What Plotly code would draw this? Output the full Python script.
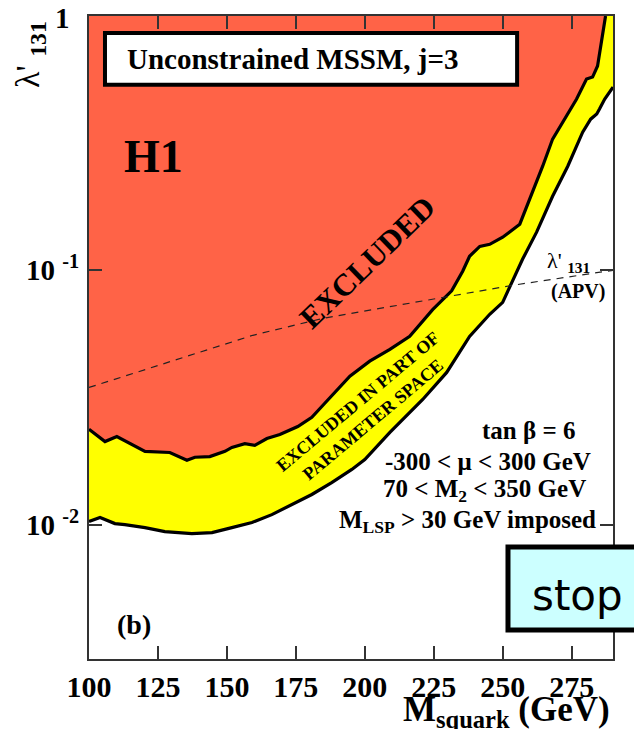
import plotly.graph_objects as go

# ---------------- data ----------------
# Upper boundary (red / yellow) : squark mass (GeV), lambda'_131
upper_mass = [100.0, 105.8, 110.1, 120.3, 129.3, 135.5, 138.4, 143.8, 149.3, 151.8,
              156.5, 160.1, 164.5, 169.2, 175.7, 180.8, 185.5, 194.6, 201.8, 209.1,
              216.3, 224.6, 231.5, 235.5, 238.0, 241.7, 245.3, 250.0, 256.2, 259.8,
              264.5, 268.1, 273.2, 276.8, 280.4, 282.6, 284.4, 286.2, 287.3]
upper_lam = [0.0237, 0.0212, 0.0222, 0.0194, 0.0192, 0.0179, 0.0184, 0.0185, 0.0194, 0.0201,
             0.0208, 0.0205, 0.0218, 0.0226, 0.0243, 0.0264, 0.0300, 0.0383, 0.0439, 0.0489,
             0.0550, 0.0700, 0.0830, 0.0991, 0.1135, 0.1242, 0.1265, 0.1349, 0.1518, 0.1904,
             0.2566, 0.3281, 0.4039, 0.4714, 0.5649, 0.5754, 0.6357, 0.8650, 1.0]

# Lower boundary (yellow / white)
lower_mass = [100.0, 104.0, 109.4, 113.0, 120.3, 127.5, 137.3, 144.6, 151.8, 159.1,
              166.3, 173.6, 180.8, 188.0, 195.3, 200.0, 209.1, 221.0, 229.7, 238.0,
              245.3, 250.0, 253.3, 257.2, 262.3, 268.1, 273.6, 279.0, 281.9, 284.1,
              285.1, 287.0, 290.0]
lower_lam = [0.01028, 0.01066, 0.01009, 0.0100, 0.00973, 0.00938, 0.00922, 0.00930, 0.00973, 0.01019,
             0.01094, 0.01199, 0.01313, 0.01463, 0.01647, 0.01803, 0.02303, 0.03105, 0.03966, 0.05497,
             0.06714, 0.07482, 0.08974, 0.1105, 0.1412, 0.1955, 0.2566, 0.3494, 0.3929, 0.4115,
             0.4305, 0.4714, 0.5254]

# Atomic parity violation bound (dashed)
apv_mass = [100.0, 159.4, 184.8, 226.0, 253.6, 290.0]
apv_lam = [0.0346, 0.0555, 0.0647, 0.0776, 0.0873, 0.100]

# axes
X_MIN, X_MAX = 100, 290
Y_MIN, Y_MAX = 0.00296, 1.0
x_ticks = [100, 125, 150, 175, 200, 225, 250, 275]
x_ticklabels = ["100", "125", "150", "175", "200", "225", "250", "275"]
y_major = [0.01, 0.1, 1]
y_major_labels = ["10 <sup>-2</sup>", "10 <sup>-1</sup>", ""]
y_top_label = "1"
y_minor = [0.004, 0.005, 0.006, 0.007, 0.008, 0.009,
           0.02, 0.03, 0.04, 0.05, 0.06, 0.07, 0.08, 0.09,
           0.2, 0.3, 0.4, 0.5, 0.6, 0.7, 0.8, 0.9]

RED = "#ff6347"
YEL = "#ffff00"
SERIF = "Liberation Serif"

fig = go.Figure()

# red: fully excluded region (above upper boundary)
fig.add_trace(go.Scatter(
    x=upper_mass + [X_MIN], y=upper_lam + [Y_MAX],
    mode="lines", fill="toself", fillcolor=RED, line=dict(width=0),
    hoverinfo="skip", showlegend=False))

# yellow: excluded in part of parameter space
fig.add_trace(go.Scatter(
    x=upper_mass + [X_MAX] + lower_mass[::-1],
    y=upper_lam + [Y_MAX] + lower_lam[::-1],
    mode="lines", fill="toself", fillcolor=YEL, line=dict(width=0),
    hoverinfo="skip", showlegend=False))

# boundaries
fig.add_trace(go.Scatter(x=upper_mass, y=upper_lam, mode="lines",
                         line=dict(color="black", width=3.2), showlegend=False))
fig.add_trace(go.Scatter(x=lower_mass, y=lower_lam, mode="lines",
                         line=dict(color="black", width=3.2), showlegend=False))

# APV dashed
fig.add_trace(go.Scatter(x=apv_mass, y=apv_lam, mode="lines",
                         line=dict(color="#222", width=1.2, dash="7px,6px"),
                         showlegend=False))

axis_common = dict(showline=True, linecolor="#333", linewidth=2, mirror="ticks",
                   ticks="inside", tickcolor="#333", showgrid=False, zeroline=False)

# page body has an 8px margin: figure is sized/offset so the plot lands where the reference has it
fig.update_layout(
    width=634, height=721,
    margin=dict(l=81, r=29, t=8, b=70, autoexpand=False),
    paper_bgcolor="white", plot_bgcolor="white",
    xaxis=dict(range=[X_MIN, X_MAX], tickvals=x_ticks, ticktext=x_ticklabels,
               ticklen=13, tickwidth=1.5, ticklabelstandoff=0,
               tickfont=dict(family=SERIF, size=30, color="black", weight="bold"),
               **axis_common),
    yaxis=dict(type="log", range=[-2.5287, 0.0], tickvals=y_major, ticktext=y_major_labels,
               ticklen=13, tickwidth=1.5, ticklabelstandoff=2,
               tickfont=dict(family=SERIF, size=29, color="black", weight="bold"),
               **axis_common),
    yaxis2=dict(type="log", range=[-2.5287, 0.0], overlaying="y", tickvals=y_minor,
                ticklen=6, tickwidth=1.2, showticklabels=False, **axis_common),
)

shapes = [
    # title box
    dict(type="rect", xref="paper", yref="paper", x0=0.0305, x1=0.817, y0=0.893, y1=0.9736,
         line=dict(color="black", width=4), fillcolor="white", layer="above"),
    # stop box
    dict(type="rect", xref="paper", yref="paper", x0=0.7996, x1=1.08, y0=0.0451, y1=0.1742,
         line=dict(color="black", width=5), fillcolor="#ccffff", layer="above"),
]
fig.update_layout(shapes=shapes)

bold = dict(family=SERIF, color="black", weight="bold")
anns = [
    dict(text=y_top_label, x=-0.0515, y=0.9969, font=dict(size=29, **bold)),
    dict(text="Unconstrained MSSM, j=3", x=0.0687, y=0.9331, xanchor="left", yanchor="middle",
         font=dict(size=29, **bold)),
    dict(text="H1", x=0.124, y=0.782, font=dict(size=46, **bold)),
    dict(text="EXCLUDED", x=0.5305, y=0.6174, textangle=-44, font=dict(size=31, **bold)),
    dict(text="EXCLUDED IN PART OF<br>PARAMETER SPACE", x=0.527, y=0.387, textangle=-40,
         font=dict(size=18, **bold)),
    dict(text="λ' <sub><b>131</b></sub>", x=0.870, y=0.6174, xanchor="left",
         font=dict(size=22, family=SERIF, color="black")),
    dict(text="(APV)", x=0.933, y=0.5708, font=dict(size=20, **bold)),
    dict(text="tan β = 6", x=0.9313, y=0.3561, xanchor="right", font=dict(size=25, **bold)),
    dict(text="-300 < μ < 300 GeV", x=0.9618, y=0.3064, xanchor="right", font=dict(size=25, **bold)),
    dict(text="70 < M<sub>2</sub> < 350 GeV", x=0.9523, y=0.2628, xanchor="right",
         font=dict(size=25, **bold)),
    dict(text="M<sub>LSP</sub> > 30 GeV imposed", x=0.9714, y=0.2131, xanchor="right",
         font=dict(size=25, **bold)),
    dict(text="(b)", x=0.0859, y=0.0544, font=dict(size=28, **bold)),
    dict(text="stop", x=0.9313, y=0.0995, font=dict(size=42, family="DejaVu Sans", color="black")),
    dict(text="M<sub>squark</sub> (GeV)", x=0.998, y=-0.0445, xanchor="right", yanchor="top",
         font=dict(size=35, **bold)),
    dict(text="λ' <sub><b>131</b></sub>", x=-0.1126, y=0.941, textangle=-90,
         font=dict(size=34, family=SERIF, color="black")),
]
for a in anns:
    a.setdefault("xref", "paper")
    a.setdefault("yref", "paper")
    a.setdefault("showarrow", False)
    a.setdefault("xanchor", "center")
    a.setdefault("yanchor", "middle")
fig.update_layout(annotations=anns)

fig.write_html("out.html")
